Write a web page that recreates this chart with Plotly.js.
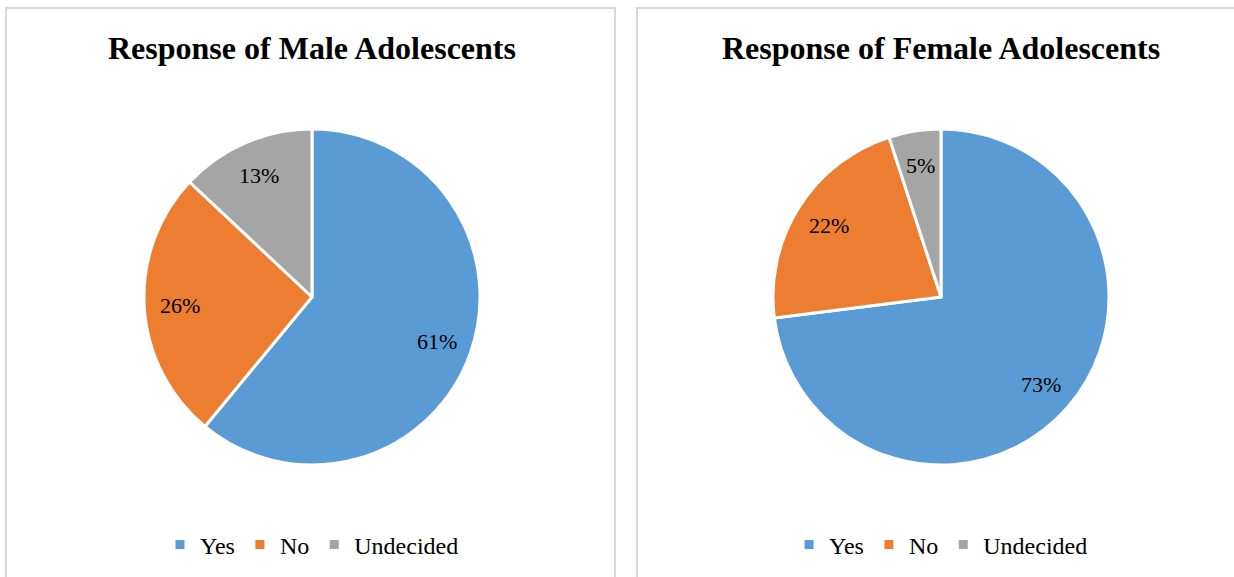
<!DOCTYPE html>
<html>
<head>
<meta charset="utf-8">
<script src="https://cdn.plot.ly/plotly-3.0.1.min.js"></script>
<style>
html,body{margin:0;padding:0;background:#fff;overflow:hidden;}
#wrap{width:1234px;height:577px;display:flex;}
#male,#female{width:617px;height:577px;}
</style>
</head>
<body>
<div id="wrap"><div id="male"></div><div id="female"></div></div>
<script>
const categories = ["Yes", "No", "Undecided"];
const maleValues = [61, 26, 13];
const femaleValues = [73, 22, 5];
const titles = ["Response of Male Adolescents", "Response of Female Adolescents"];
const colors = ["#5B9BD5", "#ED7D31", "#A5A5A5"];

const W = 617, H = 577;
const serif = "Liberation Serif, Times New Roman, serif";

function drawPanel(div, values, title, cx, boxX0, boxX1) {
  const cy = 297, r = 168;
  const total = values.reduce((a, b) => a + b, 0);
  // percentage labels placed along each slice's mid-angle (clockwise from 12 o'clock)
  const labelAnns = [];
  let cum = 0;
  values.forEach(v => {
    const mid = (cum + v / 2) / total * 2 * Math.PI;
    cum += v;
    const rr = r * 0.79;
    labelAnns.push({
      text: Math.round(v / total * 100) + "%",
      x: (cx + rr * Math.sin(mid)) / W, y: 1 - (cy - rr * Math.cos(mid)) / H,
      xref: "paper", yref: "paper", showarrow: false, xanchor: "center", yanchor: "middle",
      font: {family: serif, size: 22, color: "#000000"}
    });
  });
  const trace = {
    type: "pie",
    labels: categories,
    values: values,
    sort: false,
    direction: "clockwise",
    rotation: 0,
    marker: {colors: colors, line: {color: "#ffffff", width: 3}},
    textinfo: "none",
    hoverinfo: "label+percent",
    domain: {x: [(cx - r) / W, (cx + r) / W], y: [1 - (cy + r) / H, 1 - (cy - r) / H]}
  };
  const layout = {
    width: W, height: H,
    margin: {l: 0, r: 0, t: 0, b: 0},
    paper_bgcolor: "#ffffff",
    showlegend: true,
    legend: {
      orientation: "h", x: cx / W, xanchor: "center", y: 1 - 545 / H, yanchor: "middle",
      font: {family: serif, size: 24, color: "#000000"}, bgcolor: "rgba(0,0,0,0)",
      itemclick: false, itemdoubleclick: false, traceorder: "normal"
    },
    annotations: [{
      text: "<b>" + title + "</b>", x: cx / W, y: 1 - 48 / H, xref: "paper", yref: "paper",
      showarrow: false, xanchor: "center", yanchor: "middle",
      font: {family: serif, size: 32, color: "#000000"}
    }].concat(labelAnns),
    shapes: [
      {type: "rect", xref: "paper", yref: "paper", x0: boxX0 / W, x1: boxX1 / W, y0: -0.1, y1: 1 - 8 / H, line: {color: "#d9d9d9", width: 2}}
    ]
  };
  Plotly.newPlot(div, [trace], layout, {displayModeBar: false, staticPlot: true});
}

drawPanel("male", maleValues, titles[0], 312, 6, 615);
drawPanel("female", femaleValues, titles[1], 941 - 617, 637 - 617, 700);
</script>
</body>
</html>
